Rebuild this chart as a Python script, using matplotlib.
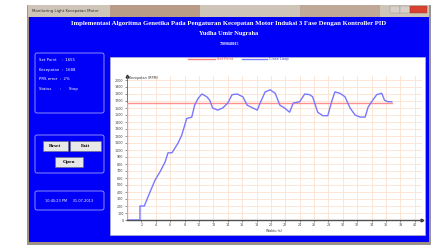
import matplotlib
matplotlib.use("Agg")
import matplotlib.pyplot as plt
from matplotlib.patches import Rectangle, FancyBboxPatch

# data
time_s = [0, 1.8, 1.8, 2.4, 3.2, 3.9, 4.6, 5.3, 5.7, 6.25, 7.1, 7.6, 8.3, 9.0,
          9.4, 9.9, 10.4, 11.1, 11.5, 11.9, 12.6, 13.3, 14.0, 14.6, 15.3, 16.1,
          16.7, 17.5, 18.1, 18.5, 19.2, 19.9, 20.6, 21.25, 21.9, 22.6, 23.1,
          24.0, 24.7, 25.4, 25.8, 26.5, 27.2, 27.9, 28.5, 28.9, 29.6, 30.3,
          31.0, 31.7, 32.4, 33.1, 33.5, 34.0, 34.7, 35.4, 35.8, 36.25, 36.8]
speed_rpm = [0, 0, 200, 200, 400, 570, 690, 830, 960, 960, 1100, 1210, 1450,
             1470, 1640, 1740, 1800, 1760, 1710, 1600, 1570, 1600, 1670, 1790,
             1800, 1760, 1640, 1600, 1570, 1670, 1830, 1860, 1810, 1640, 1600,
             1540, 1670, 1690, 1800, 1790, 1760, 1540, 1490, 1490, 1710, 1830,
             1810, 1760, 1600, 1500, 1470, 1470, 1610, 1690, 1790, 1810, 1710,
             1690, 1690]
setpoint_time = [0, 0, 36.8]
setpoint_rpm = [0, 1670, 1670]

y_ticks = list(range(0, 2001, 100))
x_ticks = list(range(2, 41, 2))

title_lines = ["Implementasi Algoritma Genetika Pada Pengaturan Kecepatan Motor Induksi 3 Fase Dengan Kontroller PID",
               "Yudha Umir Nugraha",
               "7309040015"]
status_labels = ["Set Point    :  1655", "Kecepatan  :  1688", "PRS error  :  2%", "Status       :      Stop"]
buttons = ["Reset", "Exit", "Open"]
clock_text = "10:45:23 PM     31-07-2013"

W, H = 437, 245
fig = plt.figure(figsize=(W / 100, H / 100), dpi=100)
fig.patch.set_facecolor("white")

# background layer in pixel coordinates
bg = fig.add_axes([0, 0, 1, 1])
bg.set_xlim(0, W)
bg.set_ylim(H, 0)
bg.axis("off")

bg.add_patch(Rectangle((27, 5), 403, 239, facecolor="#a09080", edgecolor="#808080", lw=0.5))
bg.add_patch(Rectangle((28, 5), 401, 12, facecolor="#cfc4b8", edgecolor="none"))
bg.add_patch(Rectangle((110, 5), 90, 12, facecolor="#b89c88", edgecolor="none"))
bg.add_patch(Rectangle((300, 5), 80, 12, facecolor="#c0a898", edgecolor="none"))
bg.text(32, 11, "Monitoring Light Kecepatan Motor", fontsize=2.8, color="#303030", va="center")
bg.add_patch(Rectangle((390, 6), 10, 7, facecolor="#d8d0c8", edgecolor="#909090", lw=0.3))
bg.add_patch(Rectangle((400, 6), 10, 7, facecolor="#d8d0c8", edgecolor="#909090", lw=0.3))
bg.add_patch(Rectangle((410, 6), 17, 7, facecolor="#d84030", edgecolor="#904030", lw=0.3))
bg.add_patch(Rectangle((29, 17), 400, 225, facecolor="#0000f8", edgecolor="none"))

for i, line in enumerate(title_lines):
    bg.text(229, 23 + i * 10.5, line, fontsize=[4.9, 4.6, 2.8][i], color="white",
            family="Liberation Serif", weight="bold", ha="center", va="center")

# left panels
for (y0, h) in [(53, 60), (135, 38), (191, 19)]:
    bg.add_patch(FancyBboxPatch((35, y0), 69, h, boxstyle="round,pad=0,rounding_size=2",
                                facecolor="none", edgecolor="#a0a0ff", lw=0.6))
for i, s in enumerate(status_labels):
    bg.text(39, 60 + i * 9.5, s, fontsize=2.8, color="white", va="center")
for label, (x0, y0, w) in zip(buttons, [(43, 141, 25), (70, 141, 31), (55, 157, 28)]):
    bg.add_patch(Rectangle((x0, y0), w, 10, facecolor="#e8e8e8", edgecolor="#707070", lw=0.4))
    bg.text(x0 + w / 2, y0 + 5, label, fontsize=3.8, weight="bold", family="Liberation Serif",
            ha="center", va="center", color="black")
bg.text(69, 201, clock_text, fontsize=2.5, color="white", ha="center", va="center")

# white plot panel
bg.add_patch(Rectangle((110, 57), 315, 178, facecolor="white", edgecolor="#c0c0c0", lw=0.4))
bg.plot([188, 215], [59, 59], color="#ff8080", lw=1.0)
bg.text(217, 59, "Set Point", fontsize=2.6, color="#e04040", va="center")
bg.plot([242, 267], [59, 59], color="#8080ff", lw=1.0)
bg.text(269, 59, "Close Loop", fontsize=2.6, color="#4040c0", va="center")

# chart axes: x 127..422 px, y 220..76.5 px
ax = fig.add_axes([127 / W, (H - 220) / H, 295 / W, 143.5 / H])
ax.set_facecolor("white")
ax.set_xlim(0, 41)
ax.set_ylim(0, 2050)
ax.set_xticks(x_ticks)
ax.set_yticks(y_ticks)
ax.set_xticklabels([str(v) for v in x_ticks], fontsize=2.4, color="#404040")
ax.set_yticklabels([str(v) for v in y_ticks], fontsize=2.4, color="#404040")
ax.tick_params(length=1.5, width=0.4, pad=1, colors="#404040")
ax.grid(True, color="#fce2d0", lw=0.6)
ax.set_axisbelow(True)
for side in ["top", "right"]:
    ax.spines[side].set_visible(False)
ax.spines["left"].set_color("#606060")
ax.spines["left"].set_linewidth(0.6)
ax.spines["bottom"].set_color("#505050")
ax.spines["bottom"].set_linewidth(1.0)

ax.plot(setpoint_time, setpoint_rpm, color="#ff9090", lw=1.0, zorder=3)
ax.plot(time_s, speed_rpm, color="#7878ff", lw=1.0, zorder=4)

ax.plot(0, 2050, marker="^", color="#303030", markersize=2, clip_on=False)
ax.plot(41, 0, marker=">", color="#303030", markersize=2, clip_on=False)
ax.text(0.3, 2030, "Kecepatan (RPM)", fontsize=2.4, color="#303030", va="center")
ax.set_xlabel("Waktu (s)", fontsize=2.4, color="#303030", labelpad=1)

fig.savefig("out.png", dpi=100)
